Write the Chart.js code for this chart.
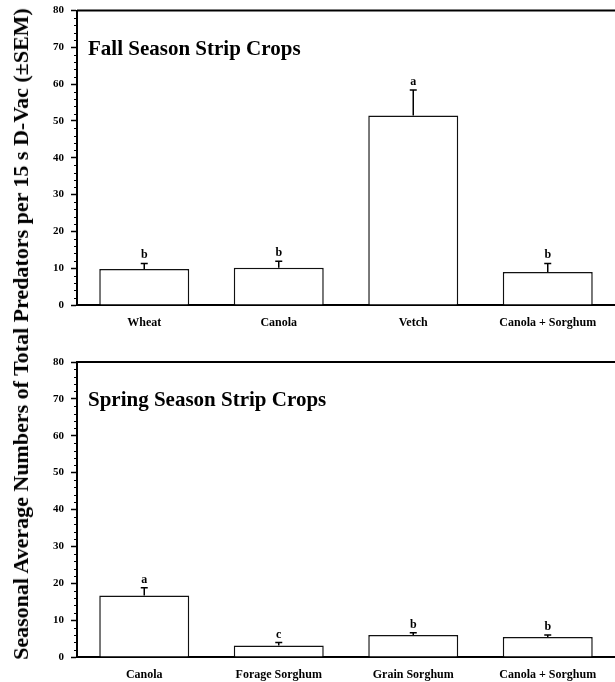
<!DOCTYPE html>
<html>
<head>
<meta charset="utf-8">
<script src="https://cdn.jsdelivr.net/npm/chart.js@4.4.1/dist/chart.umd.min.js"></script>
<style>
  html, body { margin: 0; padding: 0; background: #fff; }
  #wrap { position: relative; width: 615px; height: 682px; overflow: hidden; }
  #fallChart   { position: absolute; left: 0; top: -3px; }
  #springChart { position: absolute; left: 0; top: 340px; }
  #yTitle {
    position: absolute; left: 21px; top: 334px;
    transform: translate(-50%, -50%) rotate(-90deg);
    white-space: nowrap; color: #000;
    font: bold 22px "Liberation Serif", serif;
  }
</style>
</head>
<body>
<div id="wrap">
  <canvas id="fallChart" width="615" height="343"></canvas>
  <canvas id="springChart" width="615" height="342"></canvas>
  <div id="yTitle">Seasonal Average Numbers of Total Predators per 15 s D-Vac (±SEM)</div>
</div>

<script>
// ── Data ─────────────────────────────
const fallCrops     = ['Wheat', 'Canola', 'Vetch', 'Canola + Sorghum'];
const fallMeans     = [9.8, 10.1, 51.5, 9.0];
const fallSem       = [1.5, 1.8, 6.9, 2.3];
const fallLetters   = ['b', 'b', 'a', 'b'];

const springCrops   = ['Canola', 'Forage Sorghum', 'Grain Sorghum', 'Canola + Sorghum'];
const springMeans   = [16.7, 3.1, 6.0, 5.4];
const springSem     = [2.1, 0.8, 0.6, 0.6];
const springLetters = ['a', 'c', 'b', 'b'];

const yMin = 0, yMax = 80, yStep = 10, yMinorStep = 2;

const SERIF = '"Liberation Serif", "Times New Roman", serif';
Chart.defaults.font.family = SERIF;
Chart.defaults.color = '#000';

// ── Plugin: marco, ticks menores, barras de error, letras y título ──
const decorPlugin = {
  id: 'decor',
  afterDatasetsDraw(chart, args, opts) {
    const { ctx, chartArea: a, scales: { y } } = chart;
    ctx.save();
    ctx.strokeStyle = '#000';

    // línea superior del marco
    ctx.lineWidth = 2;
    ctx.beginPath();
    ctx.moveTo(a.left, a.top);
    ctx.lineTo(chart.width, a.top);
    ctx.stroke();

    // ticks menores
    ctx.lineWidth = 1;
    for (let v = yMin; v <= yMax; v += yMinorStep) {
      if (v % yStep === 0) continue;
      const py = Math.round(y.getPixelForValue(v)) + 0.5;
      ctx.beginPath();
      ctx.moveTo(a.left - 3, py);
      ctx.lineTo(a.left, py);
      ctx.stroke();
    }

    // barras de error + letras
    const meta = chart.getDatasetMeta(0);
    const vals = chart.data.datasets[0].data;
    ctx.lineWidth = 1.5;
    ctx.fillStyle = '#000';
    ctx.font = `bold 12px ${SERIF}`;
    ctx.textAlign = 'center';
    ctx.textBaseline = 'alphabetic';
    meta.data.forEach((bar, i) => {
      const x = bar.x;
      const yTop = y.getPixelForValue(vals[i]);
      const yErr = y.getPixelForValue(vals[i] + opts.sem[i]);
      ctx.beginPath();
      ctx.moveTo(x, yTop);
      ctx.lineTo(x, yErr);
      ctx.moveTo(x - 3.5, yErr);
      ctx.lineTo(x + 3.5, yErr);
      ctx.stroke();
      ctx.fillText(opts.letters[i], x, yErr - 5);
    });

    // título del panel
    ctx.font = `bold 21px ${SERIF}`;
    ctx.textAlign = 'left';
    ctx.fillText(opts.title, a.left + 11, a.top + 44);
    ctx.restore();
  }
};

function makeChart(id, labels, means, sem, letters, title, padTop, xHeight) {
  return new Chart(document.getElementById(id), {
    type: 'bar',
    data: {
      labels,
      datasets: [{
        data: means,
        backgroundColor: '#fff',
        borderColor: '#111',
        borderWidth: 1.5,
        barPercentage: 0.669,
        categoryPercentage: 1
      }]
    },
    options: {
      responsive: false,
      animation: false,
      layout: { padding: { top: padTop, right: 0, left: 0, bottom: 0 } },
      plugins: {
        legend: { display: false },
        tooltip: { enabled: false },
        decor: { sem, letters, title }
      },
      scales: {
        x: {
          grid: { display: false, drawTicks: false },
          border: { color: '#000', width: 2 },
          ticks: { padding: 11, font: { size: 12, weight: 'bold' }, color: '#000', maxRotation: 0 },
          afterFit: s => { s.height = xHeight; }
        },
        y: {
          min: yMin, max: yMax,
          grid: { drawOnChartArea: false, drawTicks: true, tickLength: 6, tickColor: '#000', tickWidth: 1.5 },
          border: { color: '#000', width: 2 },
          ticks: { stepSize: yStep, padding: 7, font: { size: 11, weight: 'bold' }, color: '#000' },
          afterFit: s => { s.width = 77; }
        }
      }
    },
    plugins: [decorPlugin]
  });
}

makeChart('fallChart',   fallCrops,   fallMeans,   fallSem,   fallLetters,   'Fall Season Strip Crops',   8, 35);
makeChart('springChart', springCrops, springMeans, springSem, springLetters, 'Spring Season Strip Crops', 22, 25);
</script>
</body>
</html>
